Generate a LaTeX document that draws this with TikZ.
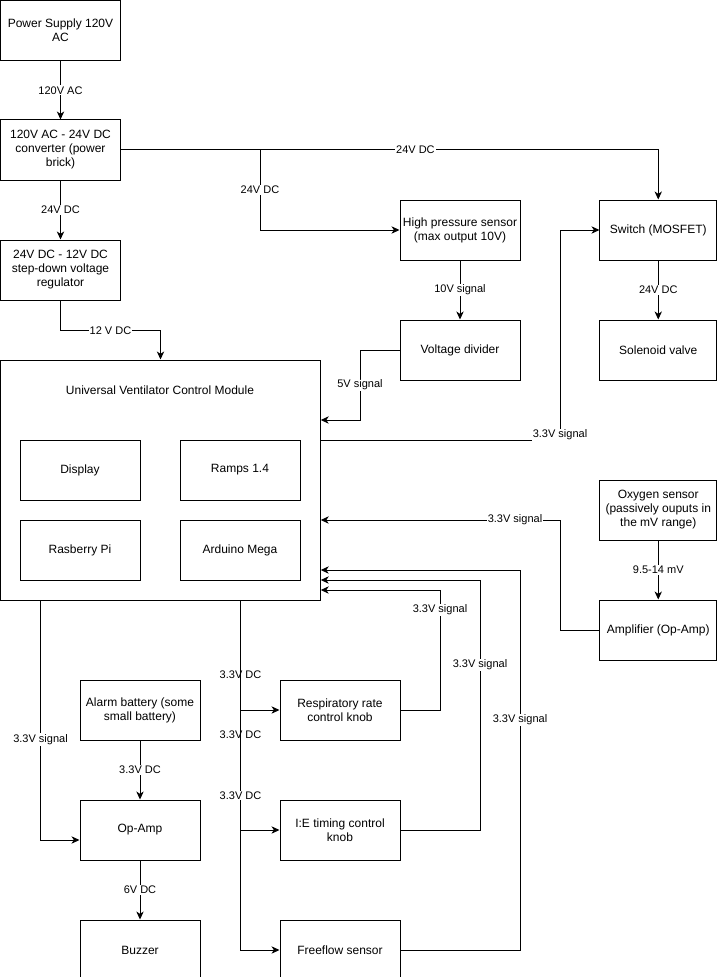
\documentclass[tikz,border=0pt]{standalone}
\usepackage{fontspec}
\setmainfont{Liberation Sans}
\usetikzlibrary{arrows.meta,calc}
\begin{document}
\begin{tikzpicture}[x=0.75pt,y=-0.75pt,
  box/.style={draw,line width=0.75pt,minimum width=90pt,minimum height=45pt,inner sep=0pt,align=center,font=\fontsize{9}{10.5}\selectfont},
  rbox/.style={box,minimum width=87.4pt},
  conn/.style={line width=0.75pt,-{Stealth[length=6pt,width=5.5pt,inset=1.8pt]}},
  lbl/.style={fill=white,inner sep=0.8pt,font=\fontsize{8.25}{9.5}\selectfont}]
\useasboundingbox (0,0) rectangle (717,977);
% nodes
\node[box] (ps) at (60.5,30.5) {Power Supply 120V\\AC};
\node[box] (conv) at (60.5,150) {120V AC - 24V DC\\converter (power\\brick)};
\node[box] (reg) at (60.5,270) {24V DC - 12V DC\\step-down voltage\\regulator};
\node[draw,line width=0.75pt,minimum width=239.6pt,minimum height=180pt,inner sep=0pt] (uvcm) at (160.5,480) {};
\node[font=\fontsize{9}{10.5}\selectfont] (uvcmt) at (160,390) {Universal Ventilator Control Module};
\node[box] (disp) at (80,470) {Display};
\node[box] (ramps) at (240,470) {Ramps 1.4};
\node[box] (rpi) at (80,550) {Rasberry Pi};
\node[box] (ard) at (240,550) {Arduino Mega};
\node[box] (hps) at (460,230) {High pressure sensor\\(max output 10V)};
\node[box] (vd) at (460,350) {Voltage divider};
\node[rbox] (sw) at (658.25,230) {Switch (MOSFET)};
\node[rbox] (sol) at (658.25,350) {Solenoid valve};
\node[rbox] (oxy) at (658.25,510) {Oxygen sensor\\(passively ouputs in\\the mV range)};
\node[rbox] (amp) at (658.25,630) {Amplifier (Op-Amp)};
\node[box] (alarm) at (140,710) {Alarm battery (some\\small battery)};
\node[box] (opamp) at (140,830) {Op-Amp};
\node[box] (buzz) at (140,950) {Buzzer};
\node[box] (resp) at (340,710) {Respiratory rate\\control knob};
\node[box] (ie) at (340,830) {I:E timing control\\knob};
\node[box] (ff) at (340,950) {Freeflow sensor};
% connectors
\draw[conn] (ps) -- node[lbl] (l1) {120V AC} (conv);
\draw[conn] (conv) -- node[lbl] (l2) {24V DC} (reg);
\draw[conn] (reg.south) -- ++(0,30) -| node[lbl,pos=0.25] (l3) {12 V DC} (uvcm.north);
\draw[conn] (conv.east) -| node[lbl,pos=0.274] (l4) {24V DC} (sw.north);
\draw[conn] (conv.east) -- (260,150) |- node[lbl,pos=0.25] (l5) {24V DC} (hps.west);
\draw[conn] (hps) -- node[lbl] (l6) {10V signal} (vd);
\draw[conn] (sw) -- node[lbl] (l7) {24V DC} (sol);
\draw[conn] (oxy) -- node[lbl] (l8) {9.5-14 mV} (amp);
\draw[conn] (vd.west) -- (360,350) |- node[lbl,pos=0.25] (l9) {5V signal} ($(uvcm.east)+(0,-60)$);
\draw[conn] ($(uvcm.east)+(0,-40)$) -- (560,440) |- (sw.west);
\node[lbl] (l10) at (560,435) {3.3V signal};
\draw[conn] (amp.west) -- (560,630) |- node[lbl,pos=0.594] (l11) {3.3V signal} ($(uvcm.east)+(0,40)$);
\draw[conn] (resp.east) -- (440,710) |- node[lbl,pos=0.417] (l12) {3.3V signal} ($(uvcm.east)+(0,110)$);
\draw[conn] (ie.east) -- (480,830) |- node[lbl,pos=0.33] (l13) {3.3V signal} ($(uvcm.east)+(0,100)$);
\draw[conn] (ff.east) -- (520,950) |- node[lbl,pos=0.303] (l14) {3.3V signal} ($(uvcm.east)+(0,90)$);
\draw[conn] ($(uvcm.south)+(80,0)$) |- node[lbl,pos=0.34] (l15) {3.3V DC} (resp.west);
\draw[conn] ($(uvcm.south)+(80,0)$) |- node[lbl,pos=0.293] (l16) {3.3V DC} (ie.west);
\draw[conn] ($(uvcm.south)+(80,0)$) |- node[lbl,pos=0.279] (l17) {3.3V DC} (ff.west);
\draw[conn] ($(uvcm.south)+(-120,0)$) |- node[lbl,pos=0.29] (l18) {3.3V signal} ($(opamp.west)+(0,10)$);
\draw[conn] (alarm) -- node[lbl] (l19) {3.3V DC} (opamp);
\draw[conn] (opamp) -- node[lbl] (l20) {6V DC} (buzz);
\end{tikzpicture}
\end{document}
